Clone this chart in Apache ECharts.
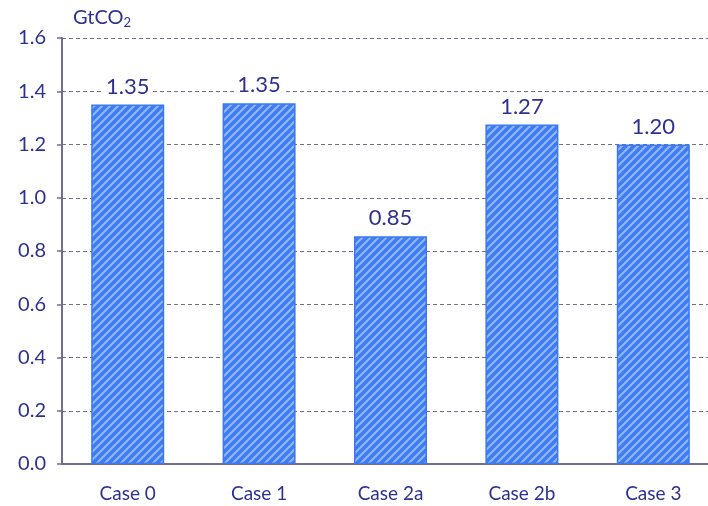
<!DOCTYPE html>
<html>
<head>
<meta charset="utf-8">
<script src="https://cdn.jsdelivr.net/npm/echarts@6/dist/echarts.min.js"></script>
<style>
  html, body { margin: 0; padding: 0; background: #fff; }
  #chart { width: 708px; height: 506px; }
</style>
</head>
<body>
<div id="chart"></div>
<script>
var categories = ['Case 0', 'Case 1', 'Case 2a', 'Case 2b', 'Case 3'];
var values = [1.35, 1.355, 0.855, 1.275, 1.2];
var labels = ['1.35', '1.35', '0.85', '1.27', '1.20'];
var yTicks = [0, 0.2, 0.4, 0.6, 0.8, 1.0, 1.2, 1.4, 1.6];

var textColor = '#2e3192';
var fontFamily = 'Lato, "Open Sans", sans-serif';

// diagonal hatch fill
function makeHatch() {
    var c = document.createElement('canvas');
    c.width = 8;
    c.height = 8;
    var ctx = c.getContext('2d');
    ctx.fillStyle = '#3f7bf2';
    ctx.fillRect(0, 0, 8, 8);
    ctx.strokeStyle = '#8fb6ff';
    ctx.lineWidth = 2.2;
    ctx.beginPath();
    ctx.moveTo(-2, 10); ctx.lineTo(10, -2);
    ctx.moveTo(-6, 6); ctx.lineTo(6, -6);
    ctx.moveTo(2, 14); ctx.lineTo(14, 2);
    ctx.stroke();
    return c;
}

var chart = echarts.init(document.getElementById('chart'));
chart.setOption({
    animation: false,
    grid: { left: 62, top: 38, right: -11, bottom: 42, outerBoundsMode: 'none' },
    graphic: [{
        type: 'text',
        left: 73,
        top: 8,
        style: {
            text: 'GtCO{sub|2}',
            fill: textColor,
            font: '20px ' + fontFamily,
            rich: { sub: { fontSize: 13, fill: textColor, padding: [10, 0, 0, 0], fontFamily: fontFamily } }
        }
    }],
    xAxis: {
        type: 'category',
        data: categories,
        axisLine: { lineStyle: { color: '#6f6f95', width: 2 } },
        axisTick: { show: false },
        axisLabel: { color: textColor, fontSize: 19, fontFamily: fontFamily, margin: 20 }
    },
    yAxis: {
        type: 'value',
        min: 0,
        max: 1.6,
        interval: 0.2,
        axisLine: { show: true, lineStyle: { color: '#6f6f95', width: 2 } },
        axisTick: { show: true, length: 5, lineStyle: { color: '#6f6f95', width: 1.5 } },
        axisLabel: {
            color: textColor, fontSize: 20, fontFamily: fontFamily, margin: 16,
            formatter: function (v) {
                var t = yTicks.find(function (k) { return Math.abs(k - v) < 1e-6; });
                return (t === undefined ? v : t).toFixed(1);
            }
        },
        splitLine: { lineStyle: { color: '#707088', type: [4, 3], width: 1 } }
    },
    series: [{
        type: 'bar',
        data: values,
        barWidth: 73,
        itemStyle: {
            color: { image: makeHatch(), repeat: 'repeat' },
            borderColor: '#3a78f5',
            borderWidth: 1.5
        },
        label: {
            show: true,
            position: 'top',
            distance: 7,
            color: textColor,
            fontSize: 22,
            fontFamily: fontFamily,
            backgroundColor: '#fff',
            padding: [0, 3],
            formatter: function (p) { return labels[p.dataIndex]; }
        }
    }]
});
</script>
</body>
</html>
